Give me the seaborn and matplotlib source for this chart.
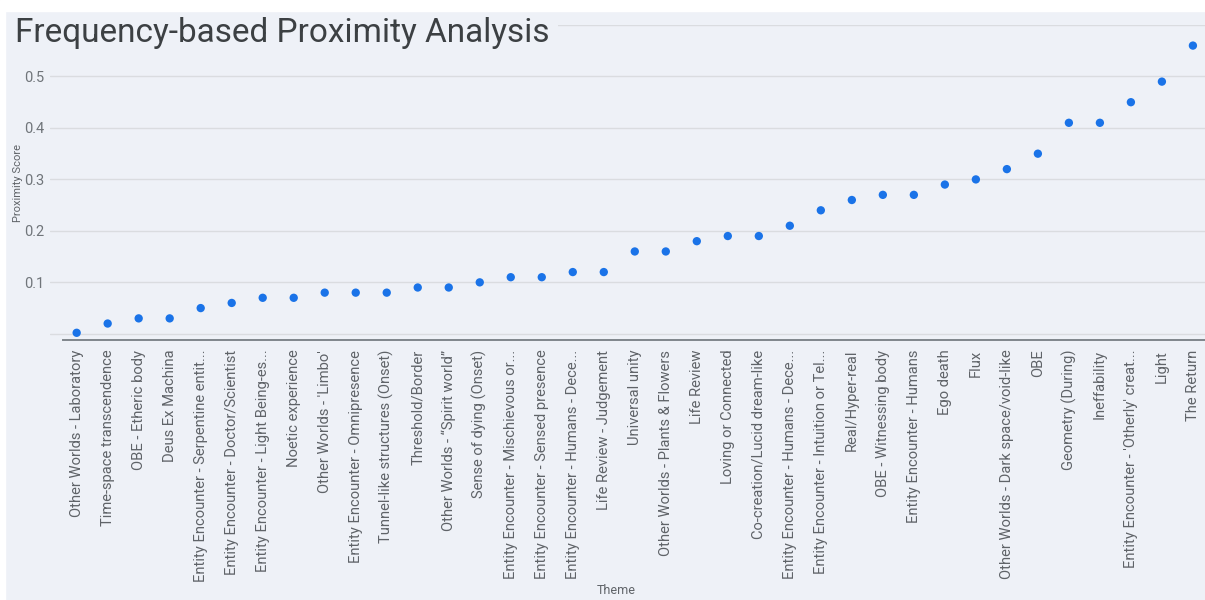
import numpy as np
import pandas as pd
import seaborn as sns
import matplotlib.pyplot as plt
from matplotlib.patches import Rectangle

# data
themes = [
    "Other Worlds - Laboratory",
    "Time-space transcendence",
    "OBE - Etheric body",
    "Deus Ex Machina",
    "Entity Encounter - Serpentine entit...",
    "Entity Encounter - Doctor/Scientist",
    "Entity Encounter - Light Being-es...",
    "Noetic experience",
    "Other Worlds - 'Limbo'",
    "Entity Encounter - Omnipresence",
    "Tunnel-like structures (Onset)",
    "Threshold/Border",
    "Other Worlds - \u201cSpirit world\u201d",
    "Sense of dying (Onset)",
    "Entity Encounter - Mischievous or...",
    "Entity Encounter - Sensed presence",
    "Entity Encounter - Humans - Dece...",
    "Life Review - Judgement",
    "Universal unity",
    "Other Worlds - Plants & Flowers",
    "Life Review",
    "Loving or Connected",
    "Co-creation/Lucid dream-like",
    "Entity Encounter - Humans - Dece...",
    "Entity Encounter - Intuition or Tel...",
    "Real/Hyper-real",
    "OBE - Witnessing body",
    "Entity Encounter - Humans",
    "Ego death",
    "Flux",
    "Other Worlds - Dark space/void-like",
    "OBE",
    "Geometry (During)",
    "Ineffability",
    "Entity Encounter - 'Otherly' creat...",
    "Light",
    "The Return",
]
scores = [0.002, 0.02, 0.03, 0.03, 0.05, 0.06, 0.07, 0.07, 0.08, 0.08,
          0.08, 0.09, 0.09, 0.10, 0.11, 0.11, 0.12, 0.12, 0.16, 0.16,
          0.18, 0.19, 0.19, 0.21, 0.24, 0.26, 0.27, 0.27, 0.29, 0.30,
          0.32, 0.35, 0.41, 0.41, 0.45, 0.49, 0.56]
y_ticks = [0.0, 0.1, 0.2, 0.3, 0.4, 0.5, 0.6]
y_tick_labels = ["", "0.1", "0.2", "0.3", "0.4", "0.5", ""]

df = pd.DataFrame({"pos": np.arange(len(themes)), "Theme": themes, "score": scores})

bg = "#eef1f7"
sns.set_style("white")
plt.rcParams["font.family"] = ["Roboto", "DejaVu Sans"]

fig = plt.figure(figsize=(12.05, 6), dpi=100, facecolor=bg)
ax = fig.add_axes([50 / 1205, 1 - 340 / 600, 1 - 50 / 1205, 315 / 600])
ax.set_facecolor(bg)

sns.scatterplot(data=df, x="pos", y="score", ax=ax, color="#1a73e8",
                s=36, edgecolor="none", zorder=3)

ax.set_xlim(-0.86, 36.39)
ax.set_ylim(-0.012, 0.6)
ax.set_yticks(y_ticks)
ax.set_yticklabels(y_tick_labels)
ax.set_xticks(df["pos"])
ax.set_xticklabels(df["Theme"], rotation=90, ha="center", va="top")
ax.tick_params(axis="x", length=0, pad=7, labelsize=10.6, labelcolor="#5f6368")
ax.tick_params(axis="y", length=0, pad=4, labelsize=10.5, labelcolor="#70757a")
ax.grid(axis="y", color="#dadce0", lw=1)
ax.set_axisbelow(True)

for side in ["top", "right", "left"]:
    ax.spines[side].set_visible(False)
ax.spines["bottom"].set_color("#7f868c")
ax.spines["bottom"].set_linewidth(1.4)
ax.spines["bottom"].set_bounds(-0.45, 36.39)

ax.set_ylabel("Proximity Score", fontsize=8, color="#5f6368", labelpad=2)
ax.yaxis.set_label_coords(-0.023, 0.5)
ax.set_xlabel("Theme", fontsize=9, color="#5f6368")
ax.xaxis.set_label_coords(0.49, -0.775)

# title sits on a background box over the top gridline
fig.text(15 / 1205, 1 - 33 / 600, "Frequency-based Proximity Analysis",
         fontsize=24, color="#3c4043", va="center", ha="left", zorder=10,
         bbox=dict(facecolor=bg, edgecolor="none", pad=6))

# white margins of the screenshot
fig.add_artist(Rectangle((0, 1 - 11 / 600), 1, 11 / 600, transform=fig.transFigure,
                         color="white", zorder=20))
fig.add_artist(Rectangle((0, 0), 5 / 1205, 1, transform=fig.transFigure,
                         color="white", zorder=20))

fig.savefig("out.png", dpi=100, facecolor=bg)
